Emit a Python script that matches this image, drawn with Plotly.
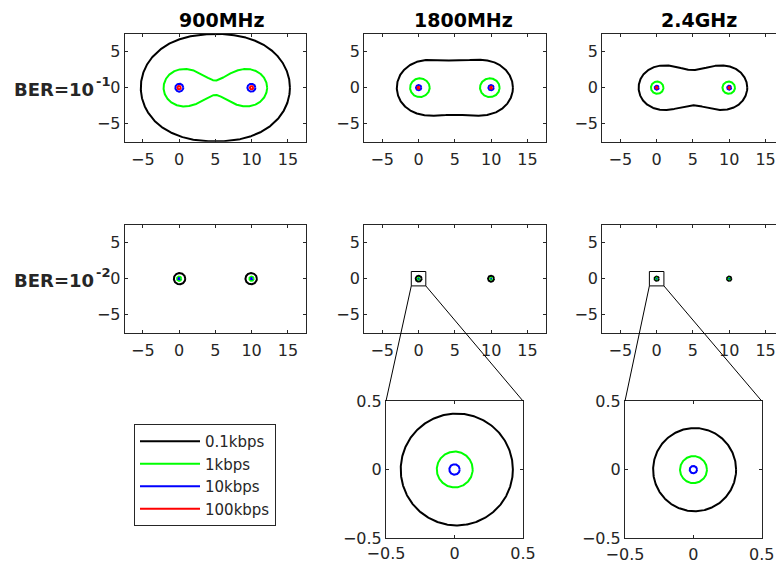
import numpy as np
import plotly.graph_objects as go

# ---------------- data ----------------
bands = ["900MHz", "1800MHz", "2.4GHz"]
ber_exponents = ["-1", "-2"]
rates = ["0.1kbps", "1kbps", "10kbps", "100kbps"]
rate_colors = ["#000000", "#00ff00", "#0000ff", "#ff0000"]
bs_x = [0.0, 10.0]          # two base stations on the x axis (m)

# coverage contour level = product of distances to the two stations (m^2)
level_ber1_900 = [80.8, 26.0, 5.5, 2.4]
level_ber1_1800 = [39.0, 13.0, 3.7, 1.5]
level_ber1_2400 = [31.0, 8.5, 2.8, 1.2]
level_ber2_900 = [7.8, 3.0, 0.9, None]
level_ber2_1800 = [4.08, 1.31, 0.38, None]
level_ber2_2400 = [3.03, 0.985, 0.27, None]

main_ticks = [-5, 0, 5, 10, 15]
main_yticks = [-5, 0, 5]
inset_ticks = [-0.5, 0, 0.5]

levels = [[level_ber1_900, level_ber1_1800, level_ber1_2400],
          [level_ber2_900, level_ber2_1800, level_ber2_2400]]


def cassini(level, foci=bs_x):
    f1, f2 = foci
    d = f2 - f1
    a = d / 2.0
    cx = (f1 + f2) / 2.0
    if level > a * a:
        t = np.linspace(0, 2 * np.pi, 2881)
        disc = np.clip(level ** 2 - a ** 4 * np.sin(2 * t) ** 2, 0, None)
        r = np.sqrt(a * a * np.cos(2 * t) + np.sqrt(disc))
        return list(cx + r * np.cos(t)), list(r * np.sin(t))
    xs, ys = [], []
    phi = np.linspace(0, 2 * np.pi, 361)
    for focus, s in ((f1, 1.0), (f2, -1.0)):
        for p in phi:
            roots = np.roots([1.0, -2 * s * d * np.cos(p), d * d, 0.0, -level ** 2])
            rr = roots[np.abs(roots.imag) < 1e-9].real
            rho = rr[rr > 0].min()
            xs.append(focus + rho * np.cos(p))
            ys.append(rho * np.sin(p))
        xs.append(None)
        ys.append(None)
    return xs, ys


# ---------------- layout geometry (pixels) ----------------
W, H = 776, 568
col_px = [(124.7, 306.0), (364.1, 545.6), (602.2, 783.7)]
row_px = [(33.7, 141.7), (224.7, 332.7)]
inset_px = [((386.0, 523.0), (401.0, 538.0)), ((625.0, 761.7), (401.0, 538.3))]
full_xrange = [-7.5, 17.5]
yrange = [-7.5, 7.5]
inset_range = [-0.5, 0.5]

fig = go.Figure()
layout = dict(width=W, height=H,
              margin=dict(l=0, r=0, t=0, b=0, pad=0, autoexpand=False),
              paper_bgcolor="white", plot_bgcolor="white",
              font=dict(family="DejaVu Sans", size=16, color="#262626"),
              showlegend=True)

axis_common = dict(showgrid=False, zeroline=False, showline=True, linecolor="#262626",
                   linewidth=1, ticks="inside", ticklen=3, tickcolor="#262626",
                   automargin=False,
                   tickfont=dict(family="DejaVu Sans", size=16, color="#262626"))


def clip_domain(px0, px1, rng):
    # clip horizontal domain to figure width, shrinking range accordingly
    scale = (rng[1] - rng[0]) / (px1 - px0)
    if px1 > W:
        new_hi = rng[1] - (px1 - W) * scale
        return [px0 / W, 1.0], [rng[0], new_hi], False
    return [px0 / W, px1 / W], list(rng), True


axis_info = {}
idx = 0
for r in range(2):
    for c in range(3):
        idx += 1
        xd, xr, full = clip_domain(col_px[c][0], col_px[c][1], full_xrange)
        yd = [1 - row_px[r][1] / H, 1 - row_px[r][0] / H]
        sfx = "" if idx == 1 else str(idx)
        layout["xaxis" + sfx] = dict(axis_common, domain=xd, range=xr, tickvals=main_ticks,
                                     anchor="y" + sfx, mirror="ticks", ticklabelstandoff=3)
        layout["yaxis" + sfx] = dict(axis_common, domain=yd, range=yrange, tickvals=main_yticks,
                                     anchor="x" + sfx, mirror="ticks" if full else False)
        axis_info[idx] = (xd, xr, yd, yrange)
        for k, lev in enumerate(levels[r][c]):
            if lev is None:
                continue
            x, y = cassini(lev)
            fig.add_trace(go.Scatter(x=x, y=y, mode="lines", name=rates[k],
                                     line=dict(color=rate_colors[k], width=2),
                                     showlegend=(idx == 1), hoverinfo="skip",
                                     xaxis="x" + sfx, yaxis="y" + sfx))

# insets (zoom of row 2, columns 2 and 3)
for j, c in enumerate([1, 2]):
    idx += 1
    (xp, yp) = inset_px[j]
    xd = [xp[0] / W, xp[1] / W]
    yd = [1 - yp[1] / H, 1 - yp[0] / H]
    sfx = str(idx)
    layout["xaxis" + sfx] = dict(axis_common, domain=xd, range=inset_range, tickvals=inset_ticks,
                                 anchor="y" + sfx, mirror="ticks", ticklabelstandoff=1)
    layout["yaxis" + sfx] = dict(axis_common, domain=yd, range=inset_range, tickvals=inset_ticks,
                                 anchor="x" + sfx, mirror="ticks")
    axis_info[idx] = (xd, inset_range, yd, inset_range)
    for k, lev in enumerate(levels[1][c]):
        if lev is None:
            continue
        x, y = cassini(lev)
        fig.add_trace(go.Scatter(x=x, y=y, mode="lines", name=rates[k],
                                 line=dict(color=rate_colors[k], width=2),
                                 showlegend=False, hoverinfo="skip",
                                 xaxis="x" + sfx, yaxis="y" + sfx))


def to_paper(ax_idx, x, y):
    xd, xr, yd, yr = axis_info[ax_idx]
    px = xd[0] + (x - xr[0]) / (xr[1] - xr[0]) * (xd[1] - xd[0])
    py = yd[0] + (y - yr[0]) / (yr[1] - yr[0]) * (yd[1] - yd[0])
    return px, py


# zoom boxes and connector lines
shapes = []
zoom_half = 1.0
for src, dst in ((5, 7), (6, 8)):
    sfx = str(src)
    shapes.append(dict(type="rect", xref="x" + sfx, yref="y" + sfx,
                       x0=-zoom_half, x1=zoom_half, y0=-zoom_half, y1=zoom_half,
                       line=dict(color="black", width=1)))
    for sx, tx in ((-zoom_half, inset_range[0]), (zoom_half, inset_range[1])):
        p0 = to_paper(src, sx, -zoom_half)
        p1 = to_paper(dst, tx, inset_range[1])
        shapes.append(dict(type="line", xref="paper", yref="paper",
                           x0=p0[0], y0=p0[1], x1=p1[0], y1=p1[1],
                           line=dict(color="black", width=1)))
layout["shapes"] = shapes

# titles and row labels
annotations = []
title_centers = [222.0, 463.7, 699.0]
for c, b in enumerate(bands):
    annotations.append(dict(text="<b>%s</b>" % b, x=title_centers[c] / W, y=1 - 20.5 / H,
                            xref="paper", yref="paper", showarrow=False,
                            xanchor="center", yanchor="middle",
                            font=dict(family="DejaVu Sans", size=19, color="black")))
row_label_y = [89.0, 280.0]
for r, e in enumerate(ber_exponents):
    annotations.append(dict(text="<b>BER=10</b>", x=12.0 / W,
                            y=1 - row_label_y[r] / H,
                            xref="paper", yref="paper", showarrow=False,
                            xanchor="left", yanchor="middle",
                            font=dict(family="DejaVu Sans", size=18, color="#262626")))
    annotations.append(dict(text="<b>%s</b>" % e, x=94.0 / W,
                            y=1 - (row_label_y[r] - 7.5) / H,
                            xref="paper", yref="paper", showarrow=False,
                            xanchor="left", yanchor="middle",
                            font=dict(family="DejaVu Sans", size=13, color="#262626")))
layout["annotations"] = annotations

layout["legend"] = dict(x=134 / W, y=1 - 424 / H, xanchor="left", yanchor="top",
                        bgcolor="white", bordercolor="#262626", borderwidth=1,
                        font=dict(family="DejaVu Sans", size=15, color="#262626"),
                        itemwidth=60, tracegroupgap=0)

fig.update_layout(**layout)
fig.write_html("out.html", config={"displayModeBar": False},
               post_script="document.body.style.margin='0';document.body.style.overflow='hidden';")
